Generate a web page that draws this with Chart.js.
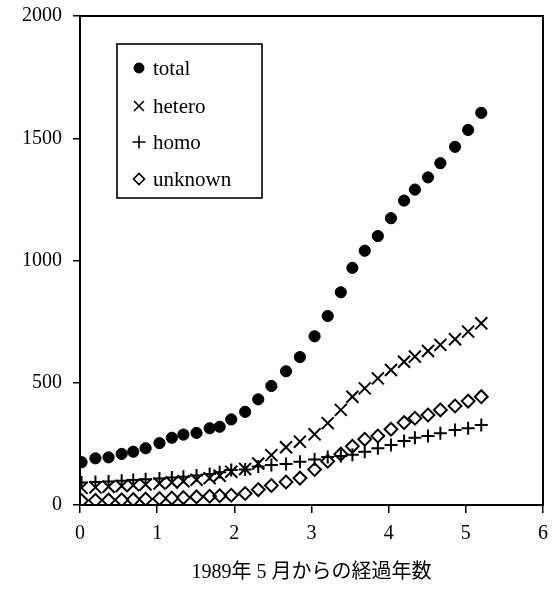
<!DOCTYPE html>
<html>
<head>
<meta charset="utf-8">
<script src="https://cdn.jsdelivr.net/npm/chart.js@4.4.1/dist/chart.umd.min.js"></script>
<style>
  html, body { margin: 0; padding: 0; background: #fff; }
  #wrap { width: 558px; height: 594px; position: relative; }
</style>
</head>
<body>
<div id="wrap"><canvas id="c" width="558" height="594"></canvas></div>
<script>
const years = [0.02, 0.2, 0.37, 0.54, 0.69, 0.85, 1.03, 1.19, 1.34, 1.51, 1.68, 1.81,
               1.96, 2.14, 2.31, 2.48, 2.67, 2.85, 3.04, 3.21, 3.38, 3.53, 3.69, 3.86,
               4.03, 4.2, 4.34, 4.51, 4.67, 4.86, 5.03, 5.2];
const totalCases   = [175, 191, 195, 209, 218, 232, 253, 275, 288, 295, 314, 320,
                      350, 381, 432, 487, 547, 605, 690, 773, 870, 970, 1040, 1100,
                      1173, 1245, 1290, 1340, 1398, 1465, 1534, 1604];
const heteroCases  = [70, 72, 75, 78, 81, 84, 88, 92, 97, 103, 110, 120,
                      136, 147, 170, 204, 236, 259, 289, 335, 389, 443, 477, 518,
                      552, 586, 607, 630, 655, 678, 709, 743];
const homoCases    = [92, 94, 96, 99, 102, 105, 108, 112, 116, 121, 127, 134,
                      143, 145, 157, 164, 168, 177, 186, 196, 200, 206, 218, 232,
                      245, 262, 275, 282, 293, 307, 314, 327];
const unknownCases = [18, 19, 20, 21, 22, 24, 26, 28, 30, 33, 36, 38,
                      40, 47, 63, 80, 94, 110, 145, 179, 208, 240, 269, 282,
                      310, 337, 355, 368, 389, 405, 425, 443];
const seriesNames = ['total', 'hetero', 'homo', 'unknown'];
const xTicks = [0, 1, 2, 3, 4, 5, 6];
const yTicks = [0, 500, 1000, 1500, 2000];
const xTitle = '1989年 5 月からの経過年数';

const SERIF = '"Liberation Serif", "DejaVu Serif", serif';
const pts = arr => arr.map((v, i) => ({ x: years[i], y: v }));

const styles = [
  { pointStyle: 'circle',   pointRadius: 5.6, backgroundColor: '#000', borderColor: '#000', borderWidth: 1 },
  { pointStyle: 'crossRot', pointRadius: 8.5, backgroundColor: '#000', borderColor: '#000', borderWidth: 2 },
  { pointStyle: 'cross',    pointRadius: 6.5, backgroundColor: '#000', borderColor: '#000', borderWidth: 2 },
  { pointStyle: 'rectRot',  pointRadius: 6.4, backgroundColor: 'rgba(255,255,255,0)', borderColor: '#000', borderWidth: 2 }
];
const allSeries = [totalCases, heteroCases, homoCases, unknownCases];

const datasets = allSeries.map((arr, i) => Object.assign({
  label: seriesNames[i],
  data: pts(arr),
  showLine: false,
  pointHoverRadius: styles[i].pointRadius
}, styles[i]));

const framePlugin = {
  id: 'frame',
  afterDatasetsDraw(chart) {
    const { ctx, chartArea: a } = chart;
    ctx.save();
    ctx.strokeStyle = '#000';
    ctx.lineWidth = 2;
    ctx.strokeRect(a.left, a.top, a.right - a.left, a.bottom - a.top);
    ctx.restore();
  }
};

const legendPlugin = {
  id: 'insideLegend',
  afterDatasetsDraw(chart) {
    const { ctx, chartArea: a } = chart;
    const bx = a.left + 37, by = a.top + 28, bw = 145, bh = 154;
    ctx.save();
    ctx.fillStyle = '#fff';
    ctx.fillRect(bx, by, bw, bh);
    ctx.strokeStyle = '#000';
    ctx.lineWidth = 1.6;
    ctx.strokeRect(bx, by, bw, bh);
    ctx.textBaseline = 'middle';
    const rowY = [24, 62, 98, 135];
    seriesNames.forEach((name, i) => {
      const s = styles[i];
      const sx = bx + 22, sy = by + rowY[i];
      const r = i === 1 ? 7 : (i === 0 ? 5 : (i === 3 ? 5.5 : 6.5));
      ctx.save();
      ctx.strokeStyle = '#000';
      ctx.fillStyle = i === 3 ? '#fff' : '#000';
      ctx.lineWidth = i === 0 ? 1 : 1.6;
      Chart.helpers.drawPoint(ctx, {
        pointStyle: s.pointStyle, radius: r, rotation: 0, borderWidth: i === 0 ? 1 : 1.6
      }, sx, sy);
      ctx.restore();
      ctx.fillStyle = '#000';
      ctx.font = '21px ' + SERIF;
      ctx.fillText(name, bx + 36, sy + 1);
    });
    ctx.restore();
  }
};

new Chart(document.getElementById('c'), {
  type: 'scatter',
  data: { datasets },
  options: {
    responsive: false,
    animation: false,
    devicePixelRatio: 1,
    layout: { padding: { top: 16, right: 15, bottom: 0, left: 0 } },
    plugins: { legend: { display: false }, tooltip: { enabled: false } },
    scales: {
      x: {
        type: 'linear', min: 0, max: 6,
        afterFit(scale) { scale.height = 89; },
        afterBuildTicks(scale) { scale.ticks = xTicks.map(v => ({ value: v })); },
        border: { display: true, color: '#000', width: 2 },
        grid: { drawOnChartArea: false, drawTicks: true, tickLength: 8, color: '#000', lineWidth: 1.5 },
        ticks: { color: '#000', font: { family: SERIF, size: 20 }, padding: 9, maxRotation: 0,
                 callback: v => String(v) },
        title: { display: true, text: xTitle, color: '#000',
                 font: { family: '"Liberation Serif", "Noto Sans CJK JP", serif', size: 20 },
                 padding: { top: 0, bottom: 9 } }
      },
      y: {
        type: 'linear', min: 0, max: 2000,
        afterFit(scale) { scale.width = 80; scale.paddingTop = 0; scale.paddingBottom = 0; },
        afterBuildTicks(scale) { scale.ticks = yTicks.map(v => ({ value: v })); },
        border: { display: true, color: '#000', width: 2 },
        grid: { drawOnChartArea: false, drawTicks: true, tickLength: 7, color: '#000', lineWidth: 1.5 },
        ticks: { color: '#000', font: { family: SERIF, size: 20 }, padding: 11,
                 callback: v => String(v) }
      }
    }
  },
  plugins: [framePlugin, legendPlugin]
});
</script>
</body>
</html>
